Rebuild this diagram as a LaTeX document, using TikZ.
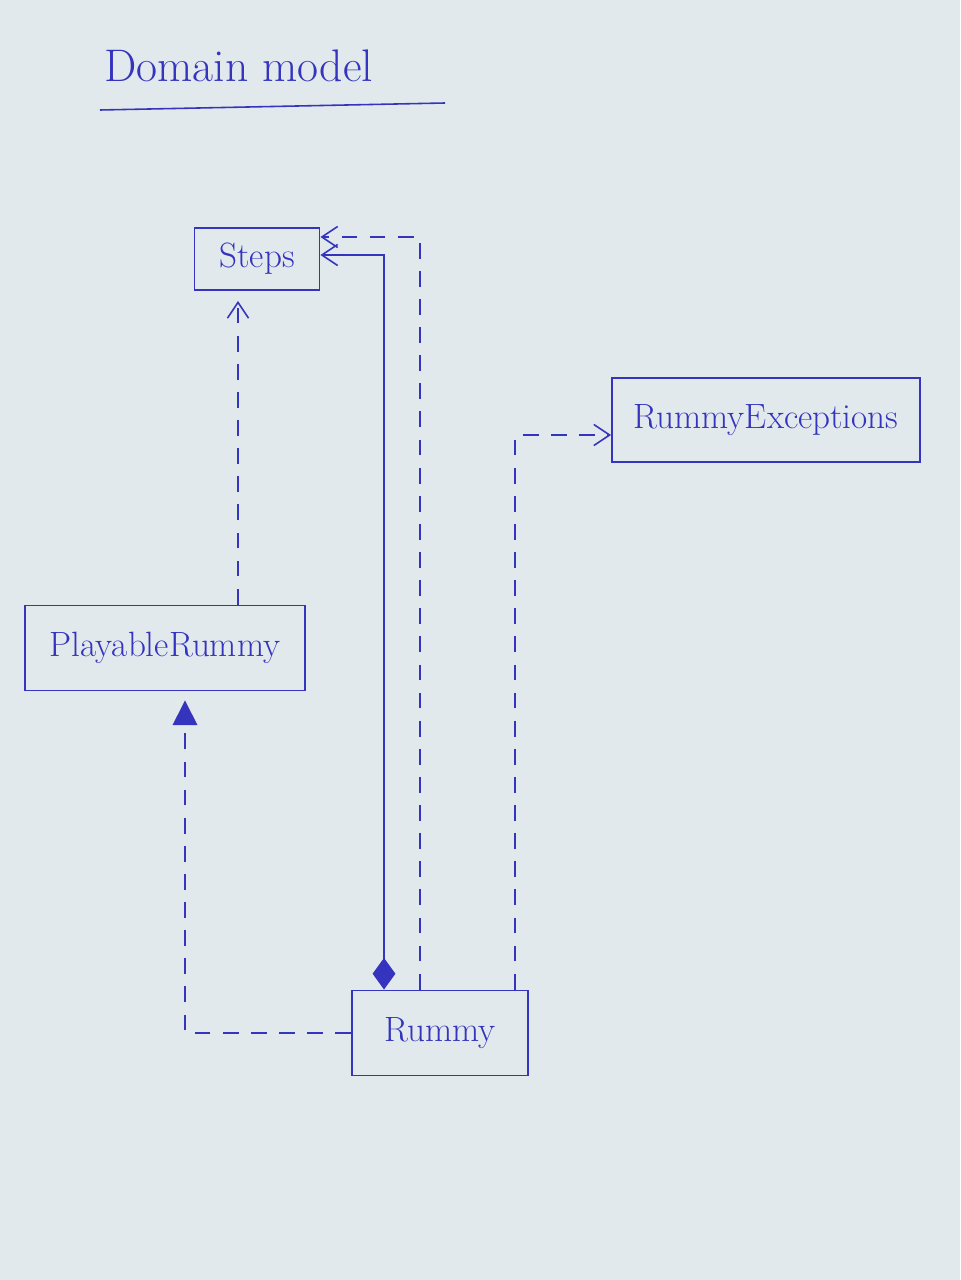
\documentclass[tikz,border=0pt]{standalone}
\usetikzlibrary{arrows.meta,calc}
\definecolor{ink}{RGB}{52,52,190}
\definecolor{paper}{RGB}{226,233,236}
\begin{document}
\begin{tikzpicture}[x=0.02cm,y=-0.02cm,
  cls/.style={draw=ink,line width=1.1pt,text=ink,inner sep=0pt,font=\fontsize{20}{24}\selectfont},
  dep/.style={draw=ink,line width=0.9pt,dash pattern=on 9pt off 7pt},
  sol/.style={draw=ink,line width=0.9pt},
  open/.style={-{Straight Barb[length=9pt,width=12pt]}},
]
\fill[paper] (0,0) rectangle (960,1280);
\useasboundingbox (0,0) rectangle (960,1280);
% title
\node[text=ink,font=\fontsize{26}{30}\selectfont,anchor=base west] (title) at (98,82) {Domain model};
\draw[ink,line width=0.9pt] (100,110) -- (445,103);
% classes
\node[cls,minimum width=125*0.02cm,minimum height=62*0.02cm] (steps) at (257,259) {Steps};
\node[cls,minimum width=280*0.02cm,minimum height=85*0.02cm] (pr) at (165,648) {PlayableRummy};
\node[cls,minimum width=308*0.02cm,minimum height=84*0.02cm] (rex) at (766,420) {RummyExceptions};
\node[cls,minimum width=176*0.02cm,minimum height=85*0.02cm] (rummy) at (440,1033) {Rummy};
% helper coordinates
\coordinate (xa) at (238,0);
\coordinate (xb) at (185,0);
\coordinate (xc) at (384,0);
\coordinate (xd) at (420,0);
\coordinate (xe) at (515,0);
\coordinate (ya) at (0,255);
\coordinate (yb) at (0,237);
\coordinate (yc) at (0,435);
% PlayableRummy -> Steps (dependency)
\draw[dep,open] (pr.north -| xa) -- ([yshift=-0.2cm]steps.south -| xa);
% Rummy -> PlayableRummy (realization)
\draw[dep,-{Triangle[length=14pt,width=14pt,fill=ink]}] (rummy.west) -| ([yshift=-0.18cm]pr.south -| xb);
% Rummy <>-> Steps (composition)
\draw[sol,{Diamond[length=18pt,width=13pt,fill=ink]}-{Straight Barb[length=9pt,width=12pt]}]
  (rummy.north -| xc) |- (steps.east |- ya);
% Rummy -> Steps (dependency)
\draw[dep,open] (rummy.north -| xd) |- (steps.east |- yb);
% Rummy -> RummyExceptions (dependency)
\draw[dep,open] (rummy.north -| xe) |- (rex.west |- yc);
\end{tikzpicture}
\end{document}
